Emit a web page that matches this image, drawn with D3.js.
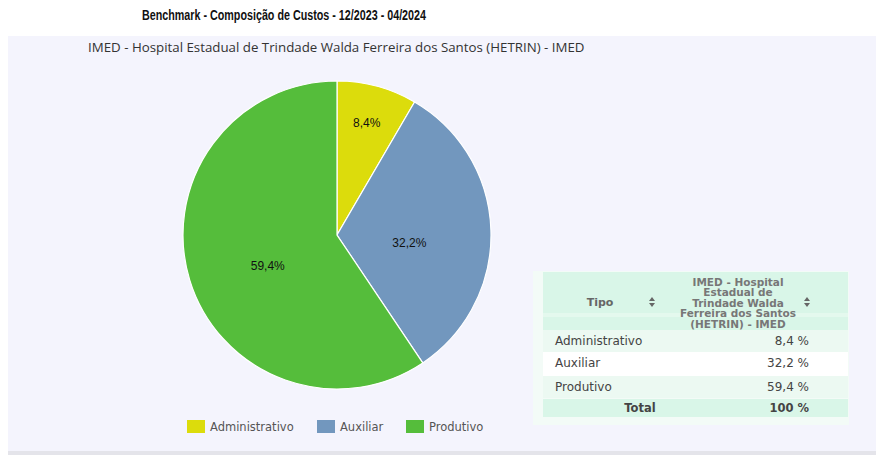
<!DOCTYPE html>
<html>
<head>
<meta charset="utf-8">
<script src="https://cdn.jsdelivr.net/npm/d3@7"></script>
<style>
  body { margin: 0; background: #fff; }
  svg { display: block; }
</style>
</head>
<body>
<div id="chart"></div>
<script>
const title = "Benchmark - Composição de Custos - 12/2023 - 04/2024";
const unitName = "IMED - Hospital Estadual de Trindade Walda Ferreira dos Santos (HETRIN) - IMED";
const unitHeaderLines = ["IMED - Hospital", "Estadual de", "Trindade Walda", "Ferreira dos Santos", "(HETRIN) - IMED"];
const categories = ["Administrativo", "Auxiliar", "Produtivo"];
const values = [8.4, 32.2, 59.4];
const colors = ["#dcdc0c", "#7297be", "#55bd3b"];
const totalLabel = "Total";
const totalValue = "100 %";

const width = 876, height = 455;
const fmt = v => String(v).replace(".", ",");

const svg = d3.select("#chart")
    .append("svg")
    .attr("width", width)
    .attr("height", height);

// background panel
svg.append("rect")
    .attr("x", 8).attr("y", 36)
    .attr("width", width - 8).attr("height", 416)
    .attr("fill", "#f4f4fd");
svg.append("rect")
    .attr("x", 8).attr("y", 451)
    .attr("width", width - 8).attr("height", 4)
    .attr("fill", "#e4e4ea");

// condensed title (no narrow font installed, so squeeze it)
svg.append("text")
    .attr("x", 142).attr("y", 20)
    .attr("textLength", 284)
    .attr("lengthAdjust", "spacingAndGlyphs")
    .style("font-family", "'Liberation Sans', Arial, sans-serif")
    .style("font-weight", "bold")
    .style("font-size", "14px")
    .style("fill", "#111")
    .text(title);

svg.append("text")
    .attr("x", 88).attr("y", 52)
    .style("font-family", "'Open Sans', sans-serif")
    .style("font-size", "13.3px")
    .style("fill", "#333")
    .text(unitName);

// Pie
const cx = 337, cy = 235, r = 154;
const data = categories.map((c, i) => ({cat: c, value: values[i], color: colors[i]}));
const pie = d3.pie().sort(null).value(d => d.value);
const arc = d3.arc().innerRadius(0).outerRadius(r);

const pieG = svg.append("g").attr("transform", `translate(${cx},${cy})`);
pieG.selectAll("path")
    .data(pie(data))
    .enter().append("path")
    .attr("d", arc)
    .attr("fill", d => d.data.color)
    .attr("stroke", "#fff")
    .attr("stroke-width", 1.2);

pieG.selectAll("text")
    .data(pie(data))
    .enter().append("text")
    .attr("transform", d => {
        const small = (d.endAngle - d.startAngle) < 1;
        const lr = small ? 0.74 * r : 0.47 * r;
        const la = d3.arc().innerRadius(lr).outerRadius(lr);
        const c = la.centroid(d);
        return `translate(${c[0]},${c[1] + (small ? -2 : 10)})`;
    })
    .attr("text-anchor", "middle")
    .attr("dy", "0.35em")
    .style("font-family", "'Liberation Sans', Arial, sans-serif")
    .style("font-size", "12px")
    .style("fill", "#111")
    .text(d => fmt(d.data.value) + "%");

// Legend
const legendX = [187, 317, 406];
const legend = svg.selectAll(".legend")
    .data(data)
    .enter().append("g")
    .attr("transform", (d, i) => `translate(${legendX[i]},420)`);
legend.append("rect")
    .attr("width", 18).attr("height", 13)
    .attr("fill", d => d.color);
legend.append("text")
    .attr("x", 23).attr("y", 11)
    .style("font-family", "'DejaVu Sans', sans-serif")
    .style("font-size", "11.5px")
    .style("fill", "#555")
    .text(d => d.cat);

// Table
const tbl = svg.append("g");
const tFont = "'DejaVu Sans', sans-serif";
tbl.append("rect")
    .attr("x", 533).attr("y", 271).attr("width", 316).attr("height", 154)
    .attr("fill", "#f3fbf7");
tbl.append("rect")
    .attr("x", 543).attr("y", 272).attr("width", 305).attr("height", 58)
    .attr("fill", "#d9f6e8");
tbl.append("rect")
    .attr("x", 543).attr("y", 313).attr("width", 305).attr("height", 4)
    .attr("fill", "#e4f9ee");

const rowY = [330, 352, 376];
const rowFill = ["#ecf9f2", "#ffffff", "#ecf9f2"];
tbl.selectAll(".row")
    .data(data)
    .enter().append("rect")
    .attr("x", 543)
    .attr("y", (d, i) => rowY[i])
    .attr("width", 305)
    .attr("height", (d, i) => i === 1 ? 24 : 22)
    .attr("fill", (d, i) => rowFill[i]);
tbl.append("rect")
    .attr("x", 543).attr("y", 399).attr("width", 305).attr("height", 18)
    .attr("fill", "#d9f6e8");

tbl.append("text")
    .attr("x", 600).attr("y", 306)
    .attr("text-anchor", "middle")
    .style("font-family", tFont).style("font-size", "11px")
    .style("font-weight", "bold").style("fill", "#666")
    .text("Tipo");
tbl.selectAll(".hdr")
    .data(unitHeaderLines)
    .enter().append("text")
    .attr("x", 738)
    .attr("y", (d, i) => 286 + i * 10.4)
    .attr("text-anchor", "middle")
    .style("font-family", tFont).style("font-size", "10.5px")
    .style("font-weight", "bold").style("fill", "#777")
    .text(d => d);

// sort icons
[652, 807].forEach(x => {
    tbl.append("path")
        .attr("d", `M${x - 3},${301} L${x},${297} L${x + 3},${301} Z M${x - 3},${303} L${x},${307} L${x + 3},${303} Z`)
        .attr("fill", "#666");
});

tbl.selectAll(".lbl")
    .data(data)
    .enter().append("text")
    .attr("x", 555)
    .attr("y", (d, i) => rowY[i] + 15)
    .style("font-family", tFont).style("font-size", "12px")
    .style("fill", "#444")
    .text(d => d.cat);
tbl.selectAll(".val")
    .data(data)
    .enter().append("text")
    .attr("x", 809)
    .attr("y", (d, i) => rowY[i] + 15)
    .attr("text-anchor", "end")
    .style("font-family", tFont).style("font-size", "12px")
    .style("fill", "#444")
    .text(d => fmt(d.value) + " %");

tbl.append("text")
    .attr("x", 640).attr("y", 412)
    .attr("text-anchor", "middle")
    .style("font-family", tFont).style("font-size", "11.5px")
    .style("font-weight", "bold").style("fill", "#444")
    .text(totalLabel);
tbl.append("text")
    .attr("x", 809).attr("y", 412)
    .attr("text-anchor", "end")
    .style("font-family", tFont).style("font-size", "11.5px")
    .style("font-weight", "bold").style("fill", "#444")
    .text(totalValue);
</script>
</body>
</html>
